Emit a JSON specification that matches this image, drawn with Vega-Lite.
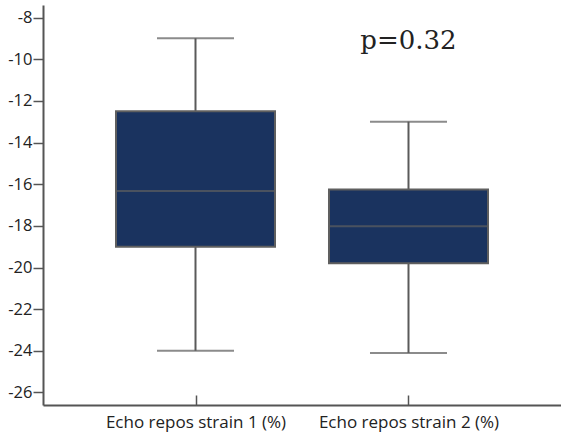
{
  "$schema": "https://vega.github.io/schema/vega-lite/v6.json",
  "autosize": "none",
  "width": 518,
  "height": 400,
  "padding": {"left": 43, "top": 5, "right": 0, "bottom": 36},
  "background": "white",
  "config": {"view": {"stroke": null}},
  "data": {"values": [
    {"group": "Echo repos strain 1 (%)", "lower": -24, "q1": -19, "median": -16.33, "q3": -12.5, "upper": -9},
    {"group": "Echo repos strain 2 (%)", "lower": -24.1, "q1": -19.8, "median": -18.02, "q3": -16.25, "upper": -13}
  ]},
  "encoding": {
    "x": {
      "field": "group", "type": "nominal",
      "scale": {"type": "point", "padding": 0.716},
      "axis": {
        "title": null, "labelAngle": 0, "domainColor": "#555555", "domainWidth": 2,
        "tickColor": "#555555", "tickWidth": 1.5, "tickSize": -10, "labelLimit": 0,
        "labelFont": "Open Sans", "labelFontSize": 17, "labelColor": "#222222", "labelPadding": 19
      }
    }
  },
  "layer": [
    {
      "mark": {"type": "rule", "color": "#5a5a5a", "strokeWidth": 2},
      "encoding": {
        "y": {"field": "lower", "type": "quantitative",
          "scale": {"domain": [-26.6, -7.4], "nice": false, "zero": false},
          "axis": {
            "title": null, "values": [-26,-25,-24,-23,-22,-21,-20,-19,-18,-17,-16,-15,-14,-13,-12,-11,-10,-9,-8],
            "labelExpr": "datum.value % 2 === 0 ? replace(datum.label, '−', '-') : ''",
            "grid": false, "domainColor": "#555555", "domainWidth": 2,
            "tickColor": "#555555", "tickWidth": 1.5,
            "tickSize": {"condition": {"test": "datum.value % 2 !== 0", "value": 6}, "value": 10},
            "labelFont": "Open Sans", "labelFontSize": 16.5, "labelColor": "#222222", "labelPadding": 1
          }
        },
        "y2": {"field": "upper"}
      }
    },
    {
      "mark": {"type": "tick", "color": "#5a5a5a", "thickness": 2, "size": 77},
      "encoding": {"y": {"field": "lower", "type": "quantitative"}}
    },
    {
      "mark": {"type": "tick", "color": "#5a5a5a", "thickness": 2, "size": 77},
      "encoding": {"y": {"field": "upper", "type": "quantitative"}}
    },
    {
      "mark": {"type": "bar", "size": 159, "fill": "#1a335f", "stroke": "#5f5f5f", "strokeWidth": 2},
      "encoding": {
        "y": {"field": "q1", "type": "quantitative"},
        "y2": {"field": "q3"}
      }
    },
    {
      "mark": {"type": "tick", "color": "#5f5f5f", "thickness": 2, "size": 159},
      "encoding": {"y": {"field": "median", "type": "quantitative"}}
    },
    {
      "data": {"values": [{"group": "Echo repos strain 2 (%)", "y": -9.5, "label": "p=0.32"}]},
      "mark": {"type": "text", "font": "DejaVu Serif", "fontSize": 26, "color": "#222222", "baseline": "alphabetic", "align": "center"},
      "encoding": {
        "y": {"field": "y", "type": "quantitative"},
        "text": {"field": "label"}
      }
    }
  ]
}
